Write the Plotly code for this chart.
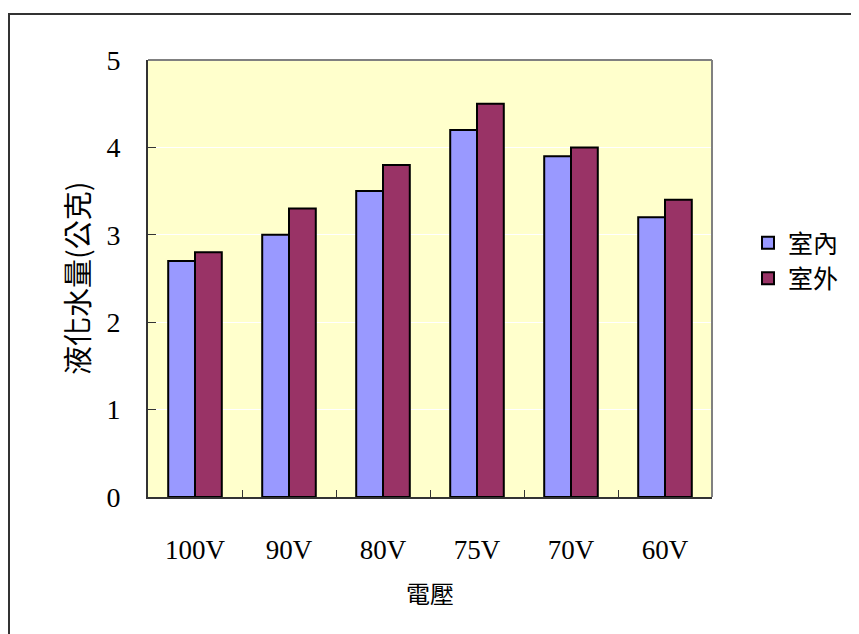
import plotly.graph_objects as go

categories = ["100V", "90V", "80V", "75V", "70V", "60V"]
indoor = [2.7, 3.0, 3.5, 4.2, 3.9, 3.2]
outdoor = [2.8, 3.3, 3.8, 4.5, 4.0, 3.4]
series_names = ["室內", "室外"]
y_ticks = [0, 1, 2, 3, 4, 5]

OFF = 8  # page body margin
W, H = 859 - OFF, 634 - OFF
# plot area in screenshot pixels
L, R, T, B = 148, 712, 60, 497
pw, ph = R - L, B - T

def px_x(p):
    return (p - L) / pw

def px_y(p):
    return (B - p) / ph

SERIF = "Liberation Serif, Times New Roman, serif"
CJK = "Noto Sans CJK TC, Noto Sans CJK SC, sans-serif"

fig = go.Figure()
fig.add_trace(go.Bar(x=categories, y=indoor, name=series_names[0],
                     marker=dict(color="#9999FF", line=dict(color="black", width=2))))
fig.add_trace(go.Bar(x=categories, y=outdoor, name=series_names[1],
                     marker=dict(color="#993366", line=dict(color="black", width=2))))

fig.update_layout(
    width=W, height=H,
    margin=dict(l=L - OFF, r=W - (R - OFF), t=T - OFF, b=H - (B - OFF), pad=0),
    paper_bgcolor="white",
    plot_bgcolor="#FFFFCC",
    barmode="group",
    bargap=0.43,
    bargroupgap=0,
    font=dict(family=SERIF, color="black"),
    legend=dict(x=px_x(748), y=px_y(220), xanchor="left", yanchor="top",
                font=dict(family=CJK, size=25, color="black"),
                bgcolor="rgba(0,0,0,0)", tracegroupgap=0, itemwidth=30),
    showlegend=True,
)

fig.update_xaxes(
    showline=True, linecolor="#333333", linewidth=2,
    ticks="inside", tickson="boundaries", ticklen=7, tickcolor="#333333", tickwidth=1,
    tickfont=dict(family=SERIF, size=27, color="black"),
    ticklabelstandoff=28,
    showgrid=False, zeroline=False,
)
fig.update_yaxes(
    range=[0, 5], tickvals=y_ticks,
    showline=True, linecolor="#333333", linewidth=2,
    ticks="inside", ticklen=8, tickcolor="#333333", tickwidth=1,
    tickfont=dict(family=SERIF, size=28, color="black"),
    ticklabelstandoff=20,
    showgrid=True, gridcolor="#FFFFFF", gridwidth=1,
    zeroline=False,
)

# plot area border (top/right, gray)
fig.add_shape(type="line", xref="paper", yref="paper", x0=0, x1=1, y0=1, y1=1,
              line=dict(color="#808080", width=2), layer="above")
fig.add_shape(type="line", xref="paper", yref="paper", x0=1, x1=1, y0=0, y1=1,
              line=dict(color="#808080", width=2), layer="above")
# outer chart frame
fig.add_shape(type="rect", xref="paper", yref="paper",
              x0=px_x(9), x1=px_x(900), y0=px_y(700), y1=px_y(14),
              line=dict(color="#333333", width=2), fillcolor="rgba(0,0,0,0)", layer="above")

fig.add_annotation(text="液化水量(公克)", xref="paper", yref="paper",
                   x=px_x(76), y=px_y(278), textangle=-90, showarrow=False,
                   font=dict(family=CJK, size=29, color="black"),
                   xanchor="center", yanchor="middle")
fig.add_annotation(text="電壓", xref="paper", yref="paper",
                   x=px_x(430), y=px_y(592), showarrow=False,
                   font=dict(family=CJK, size=24, color="black"),
                   xanchor="center", yanchor="middle")

fig.write_html("out.html")
